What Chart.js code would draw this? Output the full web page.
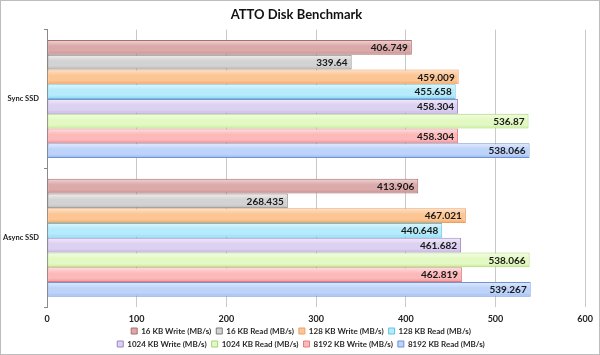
<!DOCTYPE html>
<html>
<head>
<meta charset="utf-8">
<script src="https://cdn.jsdelivr.net/npm/chart.js@4/dist/chart.umd.min.js"></script>
<style>
html,body{margin:0;padding:0;background:#fff;}
#wrap{position:relative;width:600px;height:355px;box-sizing:border-box;border:1px solid #bdbdbd;background:#fff;}
</style>
</head>
<body>
<div id="wrap"><canvas id="c"></canvas></div>
<script>
const categories = ["Sync SSD", "Async SSD"];
const seriesNames = ["16 KB Write (MB/s)", "16 KB Read (MB/s)", "128 KB Write (MB/s)", "128 KB Read (MB/s)",
  "1024 KB Write (MB/s)", "1024 KB Read (MB/s)", "8192 KB Write (MB/s)", "8192 KB Read (MB/s)"];
const write16 = [406.749, 413.906];
const read16 = [339.64, 268.435];
const write128 = [459.009, 467.021];
const read128 = [455.658, 440.648];
const write1024 = [458.304, 461.682];
const read1024 = [536.87, 538.066];
const write8192 = [458.304, 462.819];
const read8192 = [538.066, 539.267];
const xTicks = [0, 100, 200, 300, 400, 500, 600];

const seriesValues = [write16, read16, write128, read128, write1024, read1024, write8192, read8192];
const baseCol = ["#dba9a9", "#d3d3d3", "#fcc594", "#b5ebfb", "#ddd1f1", "#e3f9c3", "#fcb9b9", "#bdd3f9"];
const lightCol = ["#efd6d6", "#efefef", "#fee2c8", "#e0f7fe", "#f1ebfa", "#f3fde4", "#fee0e0", "#e2ebfd"];
const darkCol = ["#c48c8c", "#b8b8b8", "#f4a866", "#86d9f3", "#c4b3e4", "#c8ec9a", "#f09595", "#98b7ef"];
const borderCol = ["#a86e6e", "#7c7c7c", "#eea064", "#5cc5e6", "#9a88c8", "#a6d576", "#e47e7e", "#6f93d6"];

const CAT_PCT = 0.85;

function gradFor(ctx, i) {
  const chart = ctx.chart;
  const ys = chart.scales && chart.scales.y;
  if (!ys || !chart.chartArea || ctx.dataIndex === undefined) return baseCol[i];
  const catSize = (chart.chartArea.bottom - chart.chartArea.top) / categories.length;
  const thick = catSize * CAT_PCT / seriesValues.length;
  const center = ys.getPixelForValue(ctx.dataIndex);
  const top = center - catSize * CAT_PCT / 2 + i * thick;
  const g = chart.ctx.createLinearGradient(0, top, 0, top + thick);
  g.addColorStop(0, lightCol[i]);
  g.addColorStop(0.4, baseCol[i]);
  g.addColorStop(0.75, baseCol[i]);
  g.addColorStop(1, darkCol[i]);
  return g;
}

const datasets = seriesValues.map((vals, i) => ({
  label: seriesNames[i],
  data: vals,
  backgroundColor: (ctx) => gradFor(ctx, i),
  borderColor: borderCol[i],
  borderWidth: 1,
  borderSkipped: false,
  categoryPercentage: CAT_PCT,
  barPercentage: 1.0
}));

const valueLabels = {
  id: 'valueLabels',
  afterDatasetsDraw(chart) {
    const ctx = chart.ctx;
    ctx.save();
    ctx.font = "bold 10px Lato, 'Open Sans', sans-serif";
    ctx.fillStyle = "#1a1a1a";
    ctx.textAlign = "right";
    ctx.textBaseline = "middle";
    chart.data.datasets.forEach((ds, i) => {
      const meta = chart.getDatasetMeta(i);
      meta.data.forEach((bar, j) => {
        ctx.fillText(String(ds.data[j]), bar.x - 4, bar.y + 0.5);
      });
    });
    ctx.restore();
  }
};

const LEGEND_ROW_WIDTH = 405;
const legendBox = {
  id: 'legendBox',
  beforeLayout(chart) {
    const lg = chart.legend;
    if (lg && !lg._rowPatched && typeof lg._fitRows === 'function') {
      const orig = lg._fitRows;
      lg._fitRows = function (...args) {
        const mw = this.maxWidth;
        this.maxWidth = Math.min(mw, LEGEND_ROW_WIDTH);
        const r = orig.apply(this, args);
        this.maxWidth = mw;
        return r;
      };
      lg._rowPatched = true;
    }
  },
  afterLayout(chart) {
    const lg = chart.legend;
    if (lg) { lg.left = 88; lg.right = 512; lg.width = 424; }
  }
};

new Chart(document.getElementById('c'), {
  type: 'bar',
  data: { labels: categories, datasets },
  options: {
    indexAxis: 'y',
    responsive: true,
    maintainAspectRatio: false,
    animation: false,
    layout: { padding: { left: 0, right: 7, top: 0, bottom: -4 } },
    scales: {
      x: {
        min: xTicks[0], max: xTicks[xTicks.length - 1],
        afterBuildTicks(scale) { scale.ticks = xTicks.map(v => ({ value: v })); },
        afterFit(scale) { scale.height = Math.max(0, scale.height - 8); },
        grid: { color: "#c9c9c9", lineWidth: 1, drawTicks: false },
        border: { display: false },
        ticks: { font: { family: "Lato, 'Open Sans', sans-serif", size: 9, weight: 'bold' }, color: "#222", padding: 6 }
      },
      y: {
        afterFit(scale) { scale.width = 46; },
        grid: { drawOnChartArea: false, drawTicks: true, tickLength: 3, color: "#888", offset: true },
        border: { display: true, color: "#8a8a8a" },
        ticks: { font: { family: "Lato, 'Open Sans', sans-serif", size: 7.5, weight: 'bold' }, color: "#222", padding: 5 }
      }
    },
    plugins: {
      title: {
        display: true,
        text: "ATTO Disk Benchmark",
        color: "#111",
        font: { family: "Lato, 'Open Sans', sans-serif", size: 13, weight: 'bold' },
        padding: { top: 6, bottom: 7 }
      },
      legend: {
        display: true,
        position: 'bottom',
        labels: {
          boxWidth: 6, boxHeight: 6, padding: 5,
          color: "#2a2a2a",
          font: { family: "Lato, 'Open Sans', sans-serif", size: 8, weight: 'bold' },
          generateLabels(chart) {
            return chart.data.datasets.map((ds, i) => ({
              text: ds.label, fillStyle: baseCol[i], strokeStyle: borderCol[i], lineWidth: 1,
              hidden: false, datasetIndex: i, fontColor: "#2a2a2a"
            }));
          }
        }
      },
      tooltip: { enabled: false }
    }
  },
  plugins: [valueLabels, legendBox]
});
</script>
</body>
</html>
